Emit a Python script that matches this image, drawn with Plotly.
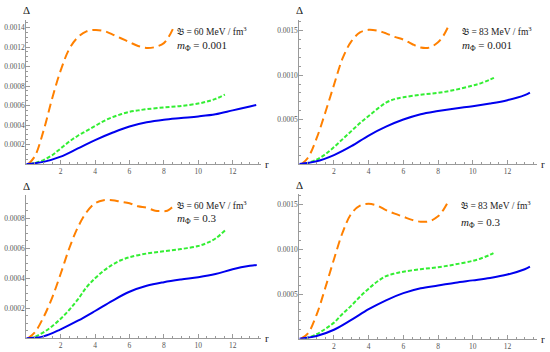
import plotly.graph_objects as go

# ---------------- data ----------------
# Panel TL: B = 60 MeV/fm^3, m_phi = 0.001
tl_orange_r = [0.12, 0.5, 1.0, 1.5, 2.0, 2.5, 3.0, 3.5, 4.0, 4.5, 5.0, 5.5, 6.0, 6.5, 7.0, 7.5, 8.0, 8.3, 8.64]
tl_orange_d = [0.0, 0.00008, 0.00034, 0.00067, 0.00096, 0.00118, 0.0013, 0.00136, 0.001375, 0.001365, 0.00133, 0.00129, 0.00125, 0.00121, 0.00119, 0.0012, 0.00124, 0.00131, 0.00143]
tl_green_r = [0.2, 0.5, 1.0, 1.5, 2.0, 2.5, 3.0, 3.5, 4.0, 4.5, 5.0, 5.5, 6.0, 6.5, 7.0, 8.0, 9.0, 10.0, 10.5, 11.0, 11.55]
tl_green_d = [0.0, 0.00001, 0.00004, 0.00009, 0.00016, 0.00023, 0.00029, 0.00034, 0.00039, 0.00044, 0.00048, 0.00051, 0.000535, 0.00055, 0.000562, 0.00058, 0.000595, 0.00062, 0.00064, 0.000668, 0.000712]
tl_blue_r = [0.0, 1.0, 2.0, 3.0, 4.0, 5.0, 6.0, 7.0, 8.0, 9.0, 10.0, 11.0, 12.0, 13.0, 13.37]
tl_blue_d = [0.0, 0.000022, 0.000075, 0.00016, 0.000245, 0.00032, 0.000385, 0.000428, 0.000455, 0.000472, 0.000488, 0.00051, 0.00055, 0.00059, 0.000605]

# Panel TR: B = 83 MeV/fm^3, m_phi = 0.001
tr_orange_r = [0.14, 0.5, 1.0, 1.5, 2.0, 2.5, 3.0, 3.5, 4.0, 4.5, 5.0, 5.5, 6.0, 6.5, 7.0, 7.5, 8.0, 8.3, 8.6]
tr_orange_d = [0.0, 0.00007, 0.00029, 0.00058, 0.00089, 0.00119, 0.00138, 0.00148, 0.00151, 0.0015, 0.00147, 0.00143, 0.0014, 0.00135, 0.00131, 0.00131, 0.00137, 0.00144, 0.00155]
tr_green_r = [0.33, 1.0, 1.5, 2.0, 2.5, 3.0, 3.5, 4.0, 4.5, 5.0, 5.5, 6.0, 7.0, 8.0, 9.0, 10.0, 10.5, 11.0, 11.35]
tr_green_d = [0.0, 0.00005, 0.00011, 0.00019, 0.00028, 0.00037, 0.00046, 0.00054, 0.00062, 0.00069, 0.00073, 0.00075, 0.00078, 0.0008, 0.000835, 0.000882, 0.00091, 0.00095, 0.00098]
tr_blue_r = [0.0, 1.0, 2.0, 3.0, 4.0, 5.0, 6.0, 7.0, 8.0, 9.0, 10.0, 11.0, 12.0, 13.0, 13.3]
tr_blue_d = [0.0, 0.00003, 0.0001, 0.0002, 0.00032, 0.00042, 0.0005, 0.00056, 0.000595, 0.000625, 0.00065, 0.00068, 0.000718, 0.000775, 0.000803]

# Panel BL: B = 60 MeV/fm^3, m_phi = 0.3
bl_orange_r = [0.1, 0.5, 1.0, 1.5, 2.0, 2.5, 3.0, 3.5, 4.0, 4.5, 5.0, 5.5, 6.0, 6.5, 7.0, 7.5, 7.8, 8.2, 8.45, 8.64]
bl_orange_d = [0.0, 0.00004, 0.00014, 0.00027, 0.00043, 0.0006, 0.00074, 0.00084, 0.0009, 0.00092, 0.00092, 0.00091, 0.0009, 0.00088, 0.00087, 0.00085, 0.000848, 0.00085, 0.00087, 0.00089]
bl_green_r = [0.2, 0.5, 1.0, 1.5, 2.0, 2.5, 3.0, 3.5, 4.0, 4.5, 5.0, 5.5, 6.0, 7.0, 8.0, 9.0, 10.0, 10.5, 11.0, 11.55]
bl_green_d = [0.0, 0.00001, 0.00004, 0.00008, 0.00013, 0.00019, 0.00026, 0.00034, 0.0004, 0.00045, 0.00049, 0.00052, 0.00054, 0.000565, 0.00058, 0.000595, 0.000615, 0.000635, 0.000665, 0.000718]
bl_blue_r = [0.0, 1.0, 2.0, 3.0, 4.0, 5.0, 6.0, 7.0, 8.0, 9.0, 10.0, 11.0, 12.0, 13.0, 13.4]
bl_blue_d = [0.0, 0.000013, 0.00006, 0.000117, 0.000182, 0.00025, 0.00031, 0.00035, 0.000374, 0.000392, 0.000407, 0.000428, 0.00046, 0.000483, 0.000489]

# Panel BR: B = 83 MeV/fm^3, m_phi = 0.3
br_orange_r = [0.1, 0.5, 1.0, 1.5, 2.0, 2.5, 3.0, 3.5, 4.0, 4.5, 5.0, 5.5, 6.0, 6.5, 7.0, 7.5, 8.0, 8.3, 8.6]
br_orange_d = [0.0, 0.00006, 0.00027, 0.00057, 0.00089, 0.00119, 0.0014, 0.00149, 0.00151, 0.00149, 0.00144, 0.0014, 0.001365, 0.00133, 0.00131, 0.001315, 0.00137, 0.00144, 0.00154]
br_green_r = [0.33, 1.0, 1.5, 2.0, 2.5, 3.0, 3.5, 4.0, 4.5, 5.0, 5.5, 6.0, 7.0, 8.0, 9.0, 10.0, 10.5, 11.0, 11.3]
br_green_d = [0.0, 0.00005, 0.00011, 0.00018, 0.00028, 0.00037, 0.00047, 0.00056, 0.00064, 0.0007, 0.00073, 0.00075, 0.000778, 0.0008, 0.000832, 0.000872, 0.0009, 0.00094, 0.00097]
br_blue_r = [0.0, 1.0, 2.0, 3.0, 4.0, 5.0, 6.0, 7.0, 8.0, 9.0, 10.0, 11.0, 12.0, 13.0, 13.3]
br_blue_d = [0.0, 0.00003, 0.0001, 0.00021, 0.00033, 0.00043, 0.00051, 0.000565, 0.000595, 0.000627, 0.000653, 0.00068, 0.000718, 0.000778, 0.000806]

x_tick_vals = [2, 4, 6, 8, 10, 12]
y_ticks_small = [0.0002, 0.0004, 0.0006, 0.0008, 0.0010, 0.0012, 0.0014]
y_ticks_large = [0.0005, 0.0010, 0.0015]

bag_labels = ["60", "83", "60", "83"]
mass_labels = ["0.001", "0.001", "0.3", "0.3"]

# ---------------- layout ----------------
W, H = 550, 352
FONT = "Liberation Serif"
ORANGE = "#FF8000"
GREEN = "#33EE33"
BLUE = "#0000EE"
AXIS = "#9a9a9a"
TICKFONT = "#555555"

panels = [
    dict(data=[(tl_orange_r, tl_orange_d), (tl_green_r, tl_green_d), (tl_blue_r, tl_blue_d)],
         xpx=(26.3, 260.7), xr=(0, 13.63), ypx=(164, 20), yr=(0, 0.001477),
         yt=y_ticks_small[:7], ymin=0.00005),
    dict(data=[(tr_orange_r, tr_orange_d), (tr_green_r, tr_green_d), (tr_blue_r, tr_blue_d)],
         xpx=(299.3, 536.7), xr=(0, 13.69), ypx=(164, 20), yr=(0, 0.00162),
         yt=y_ticks_large, ymin=0.0001),
    dict(data=[(bl_orange_r, bl_orange_d), (bl_green_r, bl_green_d), (bl_blue_r, bl_blue_d)],
         xpx=(26.3, 260.7), xr=(0, 13.63), ypx=(338.3, 195), yr=(0, 0.000955),
         yt=y_ticks_small[:4], ymin=0.00005),
    dict(data=[(br_orange_r, br_orange_d), (br_green_r, br_green_d), (br_blue_r, br_blue_d)],
         xpx=(299.3, 536.7), xr=(0, 13.69), ypx=(338.7, 194), yr=(0, 0.00162),
         yt=y_ticks_large, ymin=0.0001),
]
label_pos = [(174.5, 30.5, 45.5), (459.5, 30.5, 45.5), (174.5, 204.5, 219.0), (459.0, 204.5, 223.0)]

styles = [dict(color=ORANGE, width=2, dash="9px,5px"),
          dict(color=GREEN, width=2, dash="4px,2px"),
          dict(color=BLUE, width=2)]

fig = go.Figure()
layout = dict(width=W, height=H, margin=dict(l=0, r=0, t=0, b=0),
              paper_bgcolor="white", plot_bgcolor="white", showlegend=False,
              font=dict(family=FONT, color="#222"))
annotations = []

for i, p in enumerate(panels):
    n = "" if i == 0 else str(i + 1)
    xa, ya = "x" + n, "y" + n
    for k in [1, 0, 2]:
        rr, dd = p["data"][k]
        fig.add_trace(go.Scatter(x=rr, y=dd, mode="lines", line=dict(shape="spline", smoothing=1.0, **styles[k]),
                                 xaxis=xa, yaxis=ya, hoverinfo="skip"))
    layout["xaxis" + n] = dict(
        domain=[p["xpx"][0] / W, p["xpx"][1] / W], range=list(p["xr"]), anchor=ya,
        showgrid=False, zeroline=False, showline=True, linecolor=AXIS, linewidth=1,
        tickmode="array", tickvals=x_tick_vals, ticktext=[str(v) for v in x_tick_vals],
        ticks="inside", ticklen=4, tickcolor=AXIS, tickwidth=1,
        tickfont=dict(family=FONT, size=7.5, color=TICKFONT),
        minor=dict(ticks="inside", ticklen=2, tickcolor=AXIS, dtick=0.5, tick0=0),
    )
    layout["yaxis" + n] = dict(
        domain=[(H - p["ypx"][0]) / H, (H - p["ypx"][1]) / H], range=list(p["yr"]), anchor=xa,
        showgrid=False, zeroline=False, showline=True, linecolor=AXIS, linewidth=1,
        tickmode="array", tickvals=p["yt"], ticktext=[f"{v:.4f}" for v in p["yt"]],
        ticks="inside", ticklen=4, tickcolor=AXIS, tickwidth=1, ticklabelstandoff=-1,
        tickfont=dict(family=FONT, size=7.5, color=TICKFONT),
        minor=dict(ticks="inside", ticklen=2, tickcolor=AXIS, dtick=p["ymin"], tick0=0),
    )
    x0, x1 = p["xpx"]
    y0, y1 = p["ypx"]
    annotations.append(dict(text="Δ", x=x0 / W, y=(H - (y1 - 9.5)) / H, xref="paper", yref="paper",
                            showarrow=False, xanchor="center", yanchor="middle",
                            font=dict(family=FONT, size=11, color="#222")))
    annotations.append(dict(text="r", x=(x1 + 6.5) / W, y=(H - y0) / H, xref="paper", yref="paper",
                            showarrow=False, xanchor="center", yanchor="middle",
                            font=dict(family=FONT, size=11, color="#222")))
    lx, ly1, ly2 = label_pos[i]
    annotations.append(dict(text=f"𝔅 = {bag_labels[i]} MeV / fm<sup>3</sup>", x=lx / W, y=(H - ly1) / H,
                            xref="paper", yref="paper", showarrow=False, xanchor="left", yanchor="middle",
                            font=dict(family=FONT, size=9.5, color="#222")))
    annotations.append(dict(text=f"<i>m</i><sub>Φ</sub> = {mass_labels[i]}", x=lx / W, y=(H - ly2) / H,
                            xref="paper", yref="paper", showarrow=False, xanchor="left", yanchor="middle",
                            font=dict(family=FONT, size=11, color="#222")))

layout["annotations"] = annotations
fig.update_layout(**layout)
fig.write_html("out.html", config={"displayModeBar": False, "staticPlot": True},
               post_script="document.body.style.margin='0px';document.body.style.overflow='hidden';")
